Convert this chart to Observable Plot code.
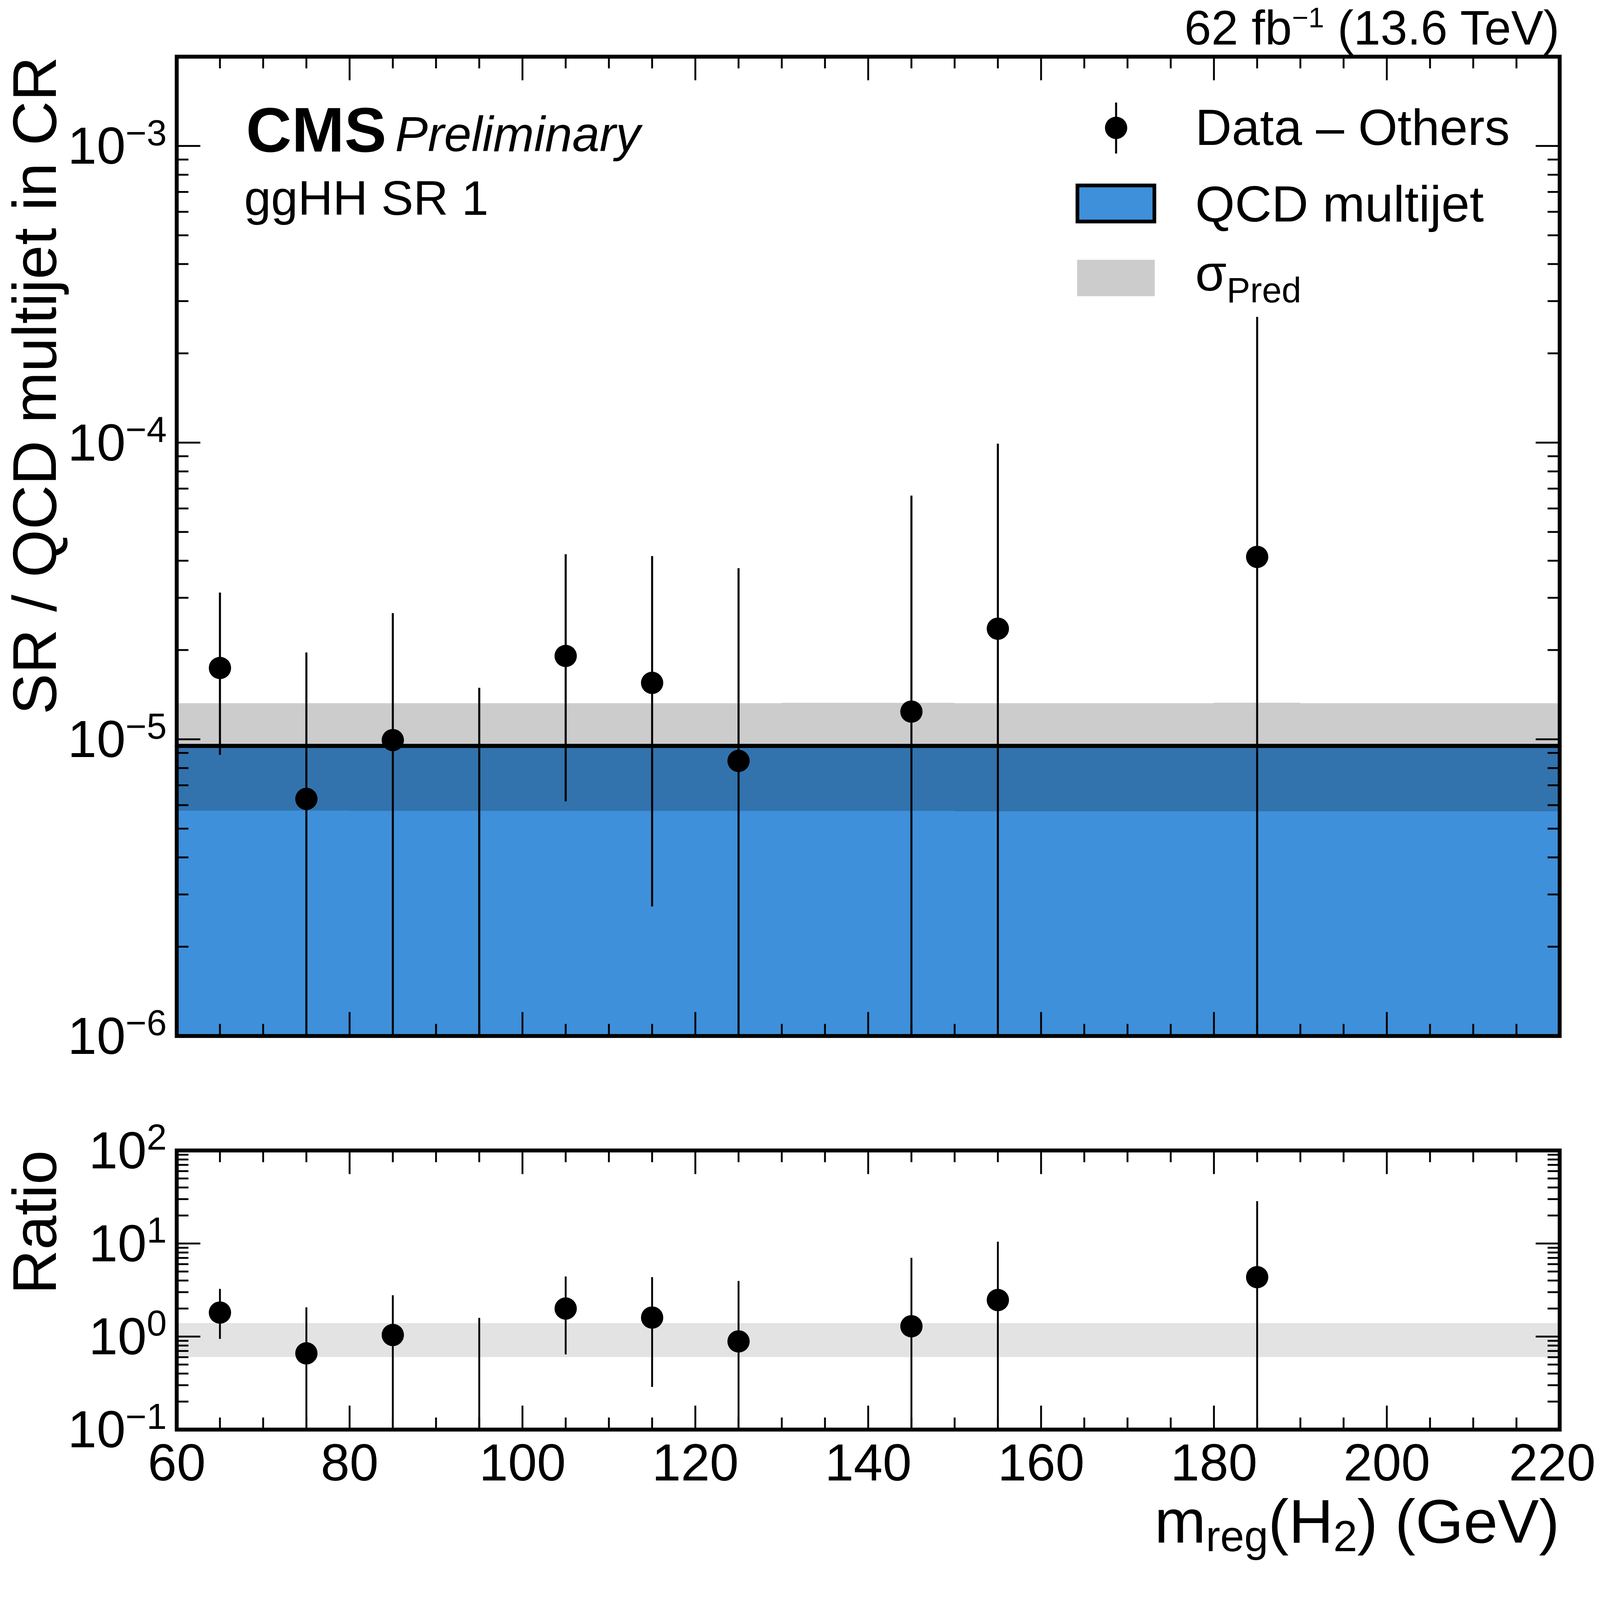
<!DOCTYPE html>
<html>
<head>
<meta charset="utf-8">
<script src="https://cdn.jsdelivr.net/npm/d3@7"></script>
<script src="https://cdn.jsdelivr.net/npm/@observablehq/plot@0.6"></script>
<style>
html, body { margin: 0; padding: 0; background: #ffffff; overflow: hidden; }
#chart { position: relative; width: 4305px; height: 4212px; background: #ffffff; overflow: hidden;
         font-family: "Liberation Sans", Arial, Helvetica, sans-serif; transform-origin: 0 0; }
#chart > svg { position: absolute; left: 0; }
</style>
</head>
<body>
<div id="chart"></div>
<script>
// ---------------- data ----------------
const binLo = [60, 70, 80, 90, 100, 110, 120, 130, 140, 150, 160, 170, 180, 190, 200, 210];
const binHi = [70, 80, 90, 100, 110, 120, 130, 140, 150, 160, 170, 180, 190, 200, 210, 220];
const qcdValue = [9.5e-6, 9.5e-6, 9.5e-6, 9.5e-6, 9.5e-6, 9.5e-6, 9.5e-6, 9.5e-6,
                  9.5e-6, 9.5e-6, 9.5e-6, 9.5e-6, 9.5e-6, 9.5e-6, 9.5e-6, 9.5e-6];
const qcdUp = [1.322e-5, 1.322e-5, 1.322e-5, 1.322e-5, 1.322e-5, 1.322e-5, 1.322e-5, 1.326e-5,
               1.326e-5, 1.322e-5, 1.322e-5, 1.322e-5, 1.327e-5, 1.322e-5, 1.322e-5, 1.322e-5];
const qcdDown = [5.74e-6, 5.74e-6, 5.73e-6, 5.73e-6, 5.73e-6, 5.73e-6, 5.73e-6, 5.73e-6,
                 5.73e-6, 5.71e-6, 5.71e-6, 5.71e-6, 5.71e-6, 5.71e-6, 5.71e-6, 5.71e-6];
const ratioBandUp = [1.39, 1.39, 1.39, 1.39, 1.39, 1.39, 1.39, 1.39,
                     1.39, 1.39, 1.39, 1.39, 1.39, 1.39, 1.39, 1.39];
const ratioBandDown = [0.60, 0.60, 0.60, 0.60, 0.60, 0.60, 0.60, 0.60,
                       0.60, 0.60, 0.60, 0.60, 0.60, 0.60, 0.60, 0.60];

const dataX  = [65, 75, 85, 95, 105, 115, 125, 145, 155, 185];
const dataY  = [1.74e-5, 6.30e-6, 9.94e-6, null, 1.91e-5, 1.55e-5, 8.46e-6, 1.24e-5, 2.36e-5, 4.12e-5];
const dataHi = [3.12e-5, 1.96e-5, 2.66e-5, 1.49e-5, 4.20e-5, 4.14e-5, 3.77e-5, 6.62e-5, 9.91e-5, 2.65e-4];
const dataLo = [8.86e-6, 0, 0, 0, 6.17e-6, 2.73e-6, 0, 0, 0, 0];

const ratioY  = [1.81, 0.66, 1.04, null, 2.00, 1.60, 0.887, 1.29, 2.47, 4.35];
const ratioHi = [3.24, 2.05, 2.77, 1.58, 4.40, 4.33, 3.94, 6.98, 10.4, 28.4];
const ratioLo = [0.94, 0, 0, 0, 0.64, 0.286, 0, 0, 0, 0];

const xMajor = [60, 80, 100, 120, 140, 160, 180, 200, 220];
const xMinor = [65, 70, 75, 85, 90, 95, 105, 110, 115, 125, 130, 135, 145, 150, 155,
                165, 170, 175, 185, 190, 195, 205, 210, 215];
const mainYDomain = [1e-6, 2e-3];
const mainYMajor = [1e-6, 1e-5, 1e-4, 1e-3];
const mainYMinor = [2e-6, 3e-6, 4e-6, 5e-6, 6e-6, 7e-6, 8e-6, 9e-6,
                    2e-5, 3e-5, 4e-5, 5e-5, 6e-5, 7e-5, 8e-5, 9e-5,
                    2e-4, 3e-4, 4e-4, 5e-4, 6e-4, 7e-4, 8e-4, 9e-4];
const ratioYDomain = [0.1, 100];
const ratioYMajor = [0.1, 1, 10, 100];
const ratioYMinor = [0.2, 0.3, 0.4, 0.5, 0.6, 0.7, 0.8, 0.9,
                     2, 3, 4, 5, 6, 7, 8, 9,
                     20, 30, 40, 50, 60, 70, 80, 90];

// ---------------- layout ----------------
const FONT = '"Liberation Sans", Arial, Helvetica, sans-serif';
const W = 4305, H = 4212, ML = 475, MR = 109, PW = W - ML - MR;
const mainH = 2950, mainMT = 152, mainMB = 163, mainPH = mainH - mainMT - mainMB;
const ratH = 1262, ratMT = 145, ratMB = 366, ratPH = ratH - ratMT - ratMB;
const BLUE = "#3f90da";

// step outline of the binned prediction (one point per bin edge, last edge repeats the last bin)
const stepPts = binLo.map((lo, i) => ({
  x: lo, qcd: qcdValue[i], up: qcdUp[i], down: qcdDown[i], rUp: ratioBandUp[i], rDown: ratioBandDown[i]
}));
{
  const n = binLo.length - 1;
  stepPts.push({x: binHi[n], qcd: qcdValue[n], up: qcdUp[n], down: qcdDown[n],
                rUp: ratioBandUp[n], rDown: ratioBandDown[n]});
}
const pts = dataX.map((x, i) => ({
  x, y: dataY[i], hi: dataHi[i], lo: dataLo[i],
  r: ratioY[i], rHi: ratioHi[i], rLo: ratioLo[i]
}));

function expFormat(d) {
  const e = Math.round(Math.log10(d));
  return "10^" + (e < 0 ? "\u2212" + (-e) : String(e));
}

function insideTicks(yMaj, yMin, PH) {
  const L = 64, S = 32, sw = 5;
  return [
    Plot.tickX(xMajor, {x: d => d, insetTop: PH - L, strokeWidth: sw}),
    Plot.tickX(xMajor, {x: d => d, insetBottom: PH - L, strokeWidth: sw}),
    Plot.tickX(xMinor, {x: d => d, insetTop: PH - S, strokeWidth: sw}),
    Plot.tickX(xMinor, {x: d => d, insetBottom: PH - S, strokeWidth: sw}),
    Plot.tickY(yMaj, {y: d => d, insetRight: PW - L, strokeWidth: sw}),
    Plot.tickY(yMaj, {y: d => d, insetLeft: PW - L, strokeWidth: sw}),
    Plot.tickY(yMin, {y: d => d, insetRight: PW - S, strokeWidth: sw}),
    Plot.tickY(yMin, {y: d => d, insetLeft: PW - S, strokeWidth: sw})
  ];
}

function superscriptLabels(svg, supSize, rise) {
  d3.select(svg).selectAll('g[aria-label="y-axis tick label"] text').each(function () {
    const parts = this.textContent.split("^");
    if (parts.length !== 2) return;
    this.textContent = "";
    d3.select(this).append("tspan").text(parts[0]);
    d3.select(this).append("tspan").attr("dy", -rise).attr("font-size", supSize).text(parts[1]);
  });
}

// ---------------- main panel ----------------
const mainPlot = Plot.plot({
  width: W, height: mainH,
  marginLeft: ML, marginRight: MR, marginTop: mainMT, marginBottom: mainMB,
  style: {fontFamily: FONT, background: "transparent", color: "black", overflow: "visible"},
  x: {domain: [60, 220], axis: null},
  y: {type: "log", domain: mainYDomain, axis: null},
  marks: [
    Plot.areaY(stepPts, {x: "x", y1: () => mainYDomain[0], y2: "qcd", curve: "step-after", fill: BLUE}),
    Plot.areaY(stepPts, {x: "x", y1: "down", y2: "up", curve: "step-after", fill: "black", fillOpacity: 0.2}),
    Plot.line(stepPts, {x: "x", y: "qcd", curve: "step-after", stroke: "black", strokeWidth: 11}),
    Plot.ruleX(pts, {x: "x", y1: d => Math.max(d.lo, mainYDomain[0]), y2: "hi", stroke: "black", strokeWidth: 5.5}),
    Plot.dot(pts.filter(d => d.y != null), {x: "x", y: "y", r: 30, fill: "black", stroke: "none"}),
    ...insideTicks(mainYMajor, mainYMinor, mainPH),
    Plot.frame({stroke: "black", strokeWidth: 10.5}),
    Plot.axisY({anchor: "left", ticks: mainYMajor, tickSize: 0, tickPadding: 27,
                tickFormat: expFormat, fontSize: 140, label: null, dy: 3})
  ]
});
superscriptLabels(mainPlot, 97, 50);
mainPlot.style.top = "0px";

// ---------------- ratio panel ----------------
const ratioPlot = Plot.plot({
  width: W, height: ratH,
  marginLeft: ML, marginRight: MR, marginTop: ratMT, marginBottom: ratMB,
  style: {fontFamily: FONT, background: "transparent", color: "black", overflow: "visible"},
  x: {domain: [60, 220], axis: null},
  y: {type: "log", domain: ratioYDomain, axis: null},
  marks: [
    Plot.areaY(stepPts, {x: "x", y1: "rDown", y2: "rUp", curve: "step-after", fill: "black", fillOpacity: 0.11}),
    Plot.ruleX(pts, {x: "x", y1: d => Math.max(d.rLo, ratioYDomain[0]), y2: "rHi", stroke: "black", strokeWidth: 5}),
    Plot.dot(pts.filter(d => d.r != null), {x: "x", y: "r", r: 30, fill: "black", stroke: "none"}),
    ...insideTicks(ratioYMajor, ratioYMinor, ratPH),
    Plot.frame({stroke: "black", strokeWidth: 10.5}),
    Plot.axisY({anchor: "left", ticks: ratioYMajor, tickSize: 0, tickPadding: 27,
                tickFormat: expFormat, fontSize: 140, label: null, dy: 3}),
    Plot.axisX({anchor: "bottom", ticks: xMajor, tickSize: 0, tickPadding: 38,
                tickFormat: d => String(d), fontSize: 140, label: null})
  ]
});
superscriptLabels(ratioPlot, 97, 50);
// keep the last x tick label inside the page edge
d3.select(ratioPlot).selectAll('g[aria-label="x-axis tick label"] text').each(function () {
  if (this.textContent === "220") this.setAttribute("dx", -20);
});
ratioPlot.style.top = mainH + "px";

const chart = document.getElementById("chart");
chart.appendChild(mainPlot);
chart.appendChild(ratioPlot);

// ---------------- annotations, axis titles and legend ----------------
const ov = d3.create("svg")
  .attr("width", W).attr("height", H)
  .attr("viewBox", `0 0 ${W} ${H}`)
  .style("top", "0px").style("pointer-events", "none")
  .style("font-family", FONT);

// luminosity / energy
const lumi = ov.append("text").attr("x", W - MR).attr("y", 120)
  .attr("text-anchor", "end").attr("font-size", 130).attr("fill", "black");
lumi.append("tspan").text("62 fb");
lumi.append("tspan").attr("dy", -46).attr("font-size", 76).text("\u22121");
lumi.append("tspan").attr("dy", 46).text(" (13.6 TeV)");

// CMS Preliminary
ov.append("text").attr("x", 662).attr("y", 408).attr("font-size", 170)
  .attr("font-weight", "bold").text("CMS");
ov.append("text").attr("x", 1063).attr("y", 407).attr("font-size", 132)
  .attr("font-style", "italic").text("Preliminary");
ov.append("text").attr("x", 657).attr("y", 578).attr("font-size", 130).text("ggHH SR 1");

// y axis titles
ov.append("text").attr("transform", `translate(150,${mainMT}) rotate(-90)`)
  .attr("text-anchor", "end").attr("font-size", 166).text("SR / QCD multijet in CR");
ov.append("text").attr("transform", `translate(150,${mainH + ratMT}) rotate(-90)`)
  .attr("text-anchor", "end").attr("font-size", 166).text("Ratio");

// x axis title
const xt = ov.append("text").attr("x", W - MR).attr("y", 4150)
  .attr("text-anchor", "end").attr("font-size", 166);
xt.append("tspan").text("m");
xt.append("tspan").attr("dy", 24).attr("font-size", 116).text("reg");
xt.append("tspan").attr("dy", -24).text("(H");
xt.append("tspan").attr("dy", 24).attr("font-size", 116).text("2");
xt.append("tspan").attr("dy", -24).text(") (GeV)");

// legend
const lg = ov.append("g");
lg.append("line").attr("x1", 3003).attr("x2", 3003).attr("y1", 276).attr("y2", 413)
  .attr("stroke", "black").attr("stroke-width", 5.5);
lg.append("circle").attr("cx", 3003).attr("cy", 344).attr("r", 30).attr("fill", "black");
lg.append("text").attr("x", 3216).attr("y", 390).attr("font-size", 136).text("Data \u2013 Others");

lg.append("rect").attr("x", 2899).attr("y", 499).attr("width", 207).attr("height", 97)
  .attr("fill", BLUE).attr("stroke", "black").attr("stroke-width", 10);
lg.append("text").attr("x", 3216).attr("y", 596).attr("font-size", 137).text("QCD multijet");

lg.append("rect").attr("x", 2898).attr("y", 699).attr("width", 209).attr("height", 98)
  .attr("fill", "black").attr("fill-opacity", 0.2);
const sg = lg.append("text").attr("x", 3216).attr("y", 782).attr("font-size", 137);
sg.append("tspan").text("\u03c3");
sg.append("tspan").attr("dy", 32).attr("font-size", 95).text("Pred");

chart.appendChild(ov.node());

// make the whole figure fit the visible window if it is narrower than the figure
function fit() {
  const s = Math.min(window.innerWidth / W, window.innerHeight / H, 1);
  chart.style.transform = s < 1 ? `scale(${s})` : "none";
}
fit();
window.addEventListener("resize", fit);
</script>
</body>
</html>
